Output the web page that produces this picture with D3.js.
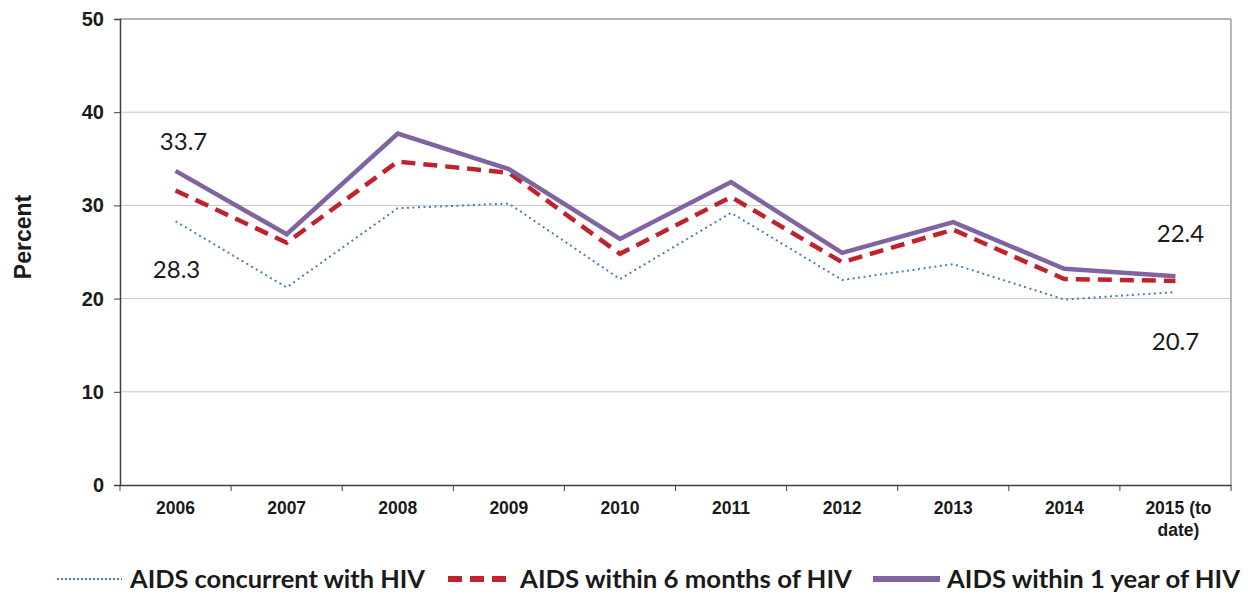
<!DOCTYPE html>
<html><head><meta charset="utf-8">
<script src="https://cdn.jsdelivr.net/npm/d3@7"></script>
<style>body{margin:0;background:#fff}</style>
</head><body>
<svg id="c" width="1248" height="597"></svg>
<script>
const categories = ["2006","2007","2008","2009","2010","2011","2012","2013","2014","2015 (to date)"];
const concurrent = [28.3,21.2,29.7,30.2,22.1,29.2,22.0,23.7,19.9,20.7];
const within6m  = [31.6,26.0,34.7,33.5,24.8,30.9,23.9,27.4,22.1,21.9];
const within1y  = [33.7,26.9,37.7,33.9,26.4,32.5,24.9,28.2,23.2,22.4];
const yTicks = [0,10,20,30,40,50];
const seriesNames = ["AIDS concurrent with HIV","AIDS within 6 months of HIV","AIDS within 1 year of HIV"];

const svg = d3.select("#c");
const L=120, R=1231, T=19, B=485;
const x = d3.scaleBand().domain(categories).range([L,R]);
const y = d3.scaleLinear().domain([0,50]).range([B,T]);

// gridlines
svg.append("g").selectAll("line").data(yTicks.filter(d=>d>0)).join("line")
  .attr("x1",L).attr("x2",R).attr("y1",d=>y(d)).attr("y2",d=>y(d))
  .attr("stroke","#c8c8c8").attr("stroke-width",1);
svg.append("line").attr("x1",R).attr("x2",R).attr("y1",T).attr("y2",B).attr("stroke","#a0a0a0").attr("stroke-width",1.5);
svg.append("line").attr("x1",L).attr("x2",R).attr("y1",T).attr("y2",T).attr("stroke","#a0a0a0").attr("stroke-width",1.5);

// y axis
const yAxis = svg.append("g").attr("transform",`translate(${L},0)`)
  .call(d3.axisLeft(y).tickValues(yTicks).tickSize(6).tickPadding(10));
yAxis.select(".domain").attr("stroke","#404040").attr("stroke-width",1.5);
yAxis.selectAll(".tick line").attr("stroke","#404040");
yAxis.selectAll("text").attr("font-family","Liberation Sans, Arial, sans-serif").attr("font-weight","bold").attr("font-size",20).attr("fill","#1a1a1a");

// x axis
const xAxis = svg.append("g").attr("transform",`translate(0,${B})`)
  .call(d3.axisBottom(x).tickSize(0).tickFormat(""));
xAxis.select(".domain").attr("stroke","#404040").attr("stroke-width",1.5);
svg.append("g").selectAll("line").data(categories.concat(["_end"])).join("line")
  .attr("x1",(d,i)=>L+i*x.bandwidth()).attr("x2",(d,i)=>L+i*x.bandwidth())
  .attr("y1",B).attr("y2",B+6).attr("stroke","#404040").attr("stroke-width",1);
const xl = svg.append("g").selectAll("text").data(categories).join("text")
  .attr("x",d=>x(d)+x.bandwidth()/2+ (d.length>4?3:0)).attr("y",B+29)
  .attr("text-anchor","middle")
  .attr("font-family","Liberation Sans, Arial, sans-serif").attr("font-weight","bold").attr("font-size",17.5).attr("fill","#1a1a1a");
xl.each(function(d){
  const t=d3.select(this);
  if(d.length>4){
    t.append("tspan").attr("x",t.attr("x")).text("2015 (to");
    t.append("tspan").attr("x",t.attr("x")).attr("dy",22).text("date)");
  } else t.text(d);
});

// y title
svg.append("text").attr("transform","translate(31,237) rotate(-90)").attr("text-anchor","middle")
  .attr("font-family","Liberation Sans, Arial, sans-serif").attr("font-weight","bold").attr("font-size",23).attr("fill","#1a1a1a").text("Percent");

const cx = d=>x(d)+x.bandwidth()/2;
const line = d3.line().x(d=>cx(d.c)).y(d=>y(d.v));
const mk = arr=>categories.map((c,i)=>({c,v:arr[i]}));

svg.append("path").datum(mk(concurrent)).attr("d",line).attr("fill","none")
  .attr("stroke","#4A7EBB").attr("stroke-width",2).attr("stroke-dasharray","2,3.5");
svg.append("path").datum(mk(within6m)).attr("d",line).attr("fill","none")
  .attr("stroke","#C0232B").attr("stroke-width",4.5).attr("stroke-dasharray","14,8");
svg.append("path").datum(mk(within1y)).attr("d",line).attr("fill","none")
  .attr("stroke","#8064A2").attr("stroke-width",4.5);

// data labels
const lab = [
  {c:categories[0], v:within1y[0], dx:8, dy:-21},
  {c:categories[0], v:concurrent[0], dx:1, dy:57},
  {c:categories[9], v:within1y[9], dx:5, dy:-34},
  {c:categories[9], v:concurrent[9], dx:0, dy:58}
];
svg.append("g").selectAll("text").data(lab).join("text")
  .attr("x",d=>cx(d.c)+d.dx).attr("y",d=>y(d.v)+d.dy).attr("text-anchor","middle")
  .attr("font-family","Lato, 'Open Sans', sans-serif").attr("font-size",24).attr("fill","#1a1a1a")
  .text(d=>d.v.toFixed(1));

// legend
const leg = [
  {n:seriesNames[0], x1:57, x2:122, tx:130, tw:295, stroke:"#4A7EBB", w:2, dash:"2,2"},
  {n:seriesNames[1], x1:448, x2:513, tx:520, tw:332, stroke:"#C0232B", w:6, dash:"14,8"},
  {n:seriesNames[2], x1:873, x2:940, tx:947, tw:293, stroke:"#8064A2", w:6, dash:null}
];
const lg = svg.append("g").selectAll("g").data(leg).join("g");
lg.append("line").attr("x1",d=>d.x1).attr("x2",d=>d.x2).attr("y1",579).attr("y2",579)
  .attr("stroke",d=>d.stroke).attr("stroke-width",d=>d.w).attr("stroke-dasharray",d=>d.dash);
lg.append("text").attr("x",d=>d.tx).attr("y",588).attr("font-family","Lato, sans-serif").attr("font-weight","bold")
  .attr("font-size",24).attr("textLength",d=>d.tw).attr("lengthAdjust","spacingAndGlyphs")
  .attr("fill","#1a1a1a").text(d=>d.n);
</script>
</body></html>
